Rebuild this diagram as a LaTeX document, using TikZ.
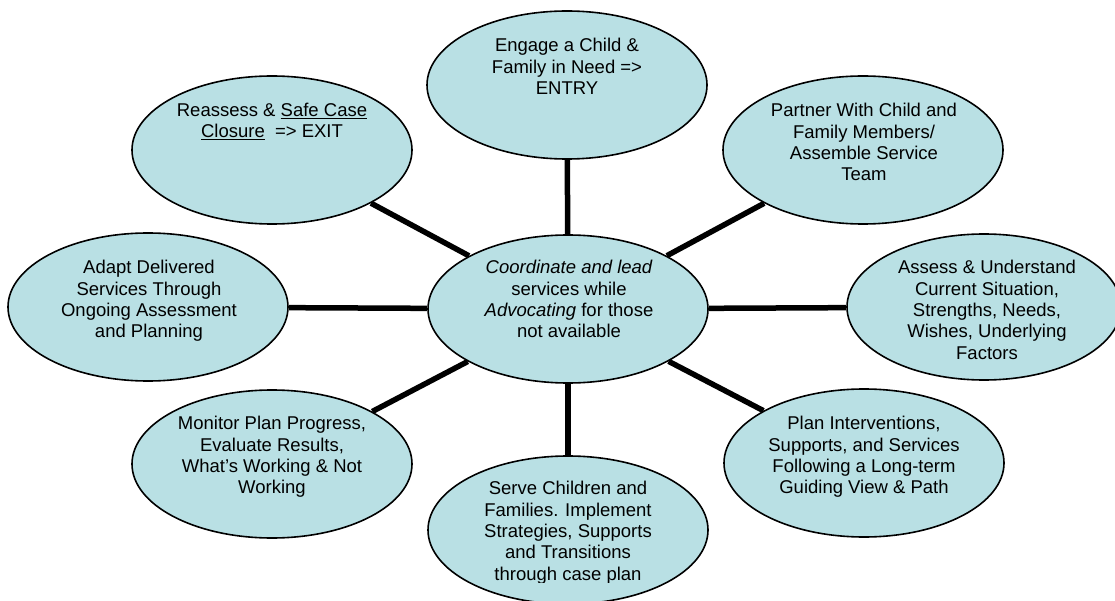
\documentclass[tikz,border=0pt]{standalone}
\usepackage{fontspec}
\setmainfont{Liberation Sans}
\usetikzlibrary{shapes.geometric}
\definecolor{ellfill}{RGB}{185,224,228}
\tikzset{
  bubble/.style={ellipse, draw=black, line width=1.6pt, fill=ellfill, inner sep=0pt,
    minimum width=280pt, minimum height=148pt},
  label/.style={anchor=north, inner sep=0pt, align=center, font=\fontsize{18.5}{21.4}\selectfont},
  spoke/.style={line width=5.5pt, black}
}
\begin{document}
\begin{tikzpicture}[x=1pt,y=-1pt]
\useasboundingbox (0,0) rectangle (1115,601);
\node[bubble] (c)  at (568,309) {};
\node[bubble] (t)  at (567,85) {};
\node[bubble] (tl) at (272,150) {};
\node[bubble] (tr) at (863,150) {};
\node[bubble] (l)  at (148,307) {};
\node[bubble, minimum width=274pt, minimum height=146pt] (r) at (984,307) {};
\node[bubble] (bl) at (272,464) {};
\node[bubble] (br) at (864,463) {};
\node[bubble] (b)  at (568,530) {};
\foreach \n in {t,tl,tr,l,r,bl,br,b}{
  \draw[spoke] (c) -- (\n);
}
\node[label] (tt)  at (567,38) {Engage a Child \&\\Family in Need =>\\ENTRY};
\node[label] (ttl) at (272,103) {Reassess \& \underline{Safe Case}\\\underline{Closure}\ \ => EXIT};
\node[label] (ttr) at (864,103) {Partner With Child and\\Family Members/\\Assemble Service\\Team};
\node[label] (tl2) at (149,260) {Adapt Delivered\\Services Through\\Ongoing Assessment\\and Planning};
\node[label] (tr2) at (987,260) {Assess \& Understand\\Current Situation,\\Strengths, Needs,\\Wishes, Underlying\\Factors};
\node[label] (tc)  at (569,260) {\itshape Coordinate and lead\\services while\\\textit{Advocating} for those\\not available};
\node[label] (tbl) at (272,416) {Monitor Plan Progress,\\Evaluate Results,\\What’s Working \& Not\\Working};
\node[label] (tbr) at (864,416) {Plan Interventions,\\Supports, and Services\\Following a Long-term\\Guiding View \& Path};
\begin{scope}
\clip (0,0) rectangle (1115,582);
\node[label] (tb) at (568,481) {Serve Children and\\Families. Implement\\Strategies, Supports\\and Transitions\\through case plan};
\end{scope}
\end{tikzpicture}
\end{document}
